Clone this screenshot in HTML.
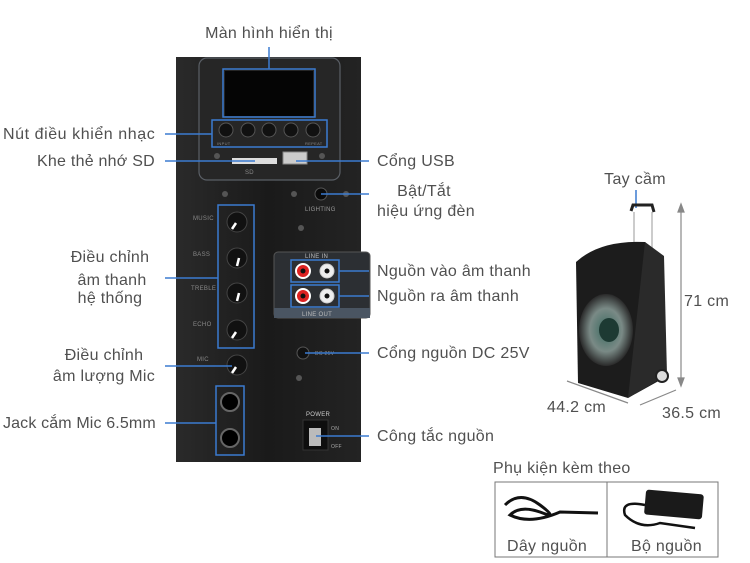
<!DOCTYPE html>
<html><head><meta charset="utf-8"><style>
html,body{margin:0;padding:0;background:#fff}
svg{display:block}
text{font-family:"Liberation Sans",sans-serif;fill:#505050;font-size:16px;letter-spacing:0.3px}
</style></head><body>
<svg width="750" height="563" viewBox="0 0 750 563" xmlns="http://www.w3.org/2000/svg">
<defs>
<linearGradient id="pg" x1="0" x2="1"><stop offset="0" stop-color="#2a2a2a"/><stop offset="0.5" stop-color="#1a1a1a"/><stop offset="1" stop-color="#232323"/></linearGradient>
<radialGradient id="wf" cx="0.5" cy="0.5" r="0.5"><stop offset="0" stop-color="#3b6a60"/><stop offset="0.6" stop-color="#7a8a86"/><stop offset="1" stop-color="#2a2a2a"/></radialGradient>
</defs>
<rect x="176" y="57" width="185" height="405" fill="url(#pg)"/>
<rect x="199" y="58" width="141" height="122" rx="8" fill="#262626" stroke="#5a5f66" stroke-width="1.2"/>
<rect x="225" y="71" width="88" height="45" fill="#050505"/>
<rect x="223" y="69" width="92" height="48" fill="none" stroke="#3b7bd0" stroke-width="1.5"/>
<rect x="212" y="120" width="115" height="27" fill="none" stroke="#3b7bd0" stroke-width="1.5"/>
<g fill="#111" stroke="#555" stroke-width="1">
<circle cx="226" cy="130" r="7"/><circle cx="248" cy="130" r="7"/><circle cx="269" cy="130" r="7"/><circle cx="291" cy="130" r="7"/><circle cx="313" cy="130" r="7"/>
</g>
<text x="217" y="145" style="font-size:4px;fill:#888">INPUT</text><text x="305" y="145" style="font-size:4px;fill:#888">REPEAT</text>
<rect x="232" y="158" width="45" height="6" fill="#ddd"/>
<rect x="283" y="152" width="24" height="12" fill="#ccc" stroke="#888"/>
<text x="245" y="174" style="font-size:6px;fill:#888">SD</text>
<g fill="#555"><circle cx="217" cy="156" r="3"/><circle cx="322" cy="156" r="3"/><circle cx="225" cy="194" r="3"/><circle cx="294" cy="194" r="3"/><circle cx="346" cy="194" r="3"/><circle cx="301" cy="228" r="3"/><circle cx="299" cy="378" r="3"/></g>
<circle cx="321" cy="194" r="6" fill="#0a0a0a" stroke="#555"/>
<text x="305" y="211" style="font-size:6px;fill:#999">LIGHTING</text>
<rect x="218" y="205" width="36" height="143" fill="none" stroke="#3b7bd0" stroke-width="1.5"/>
<g fill="#111" stroke="#444"><circle cx="237" cy="222" r="10"/><circle cx="237" cy="258" r="10"/><circle cx="237" cy="293" r="10"/><circle cx="237" cy="330" r="10"/><circle cx="237" cy="365" r="10"/></g>
<g stroke="#fff" stroke-width="2.5"><line x1="232" y1="229" x2="236" y2="223"/><line x1="237" y1="266" x2="239" y2="258"/><line x1="237" y1="301" x2="239" y2="293"/><line x1="232" y1="338" x2="236" y2="332"/><line x1="232" y1="373" x2="236" y2="367"/></g>
<text x="193" y="220" style="font-size:6px;fill:#888">MUSIC</text><text x="193" y="256" style="font-size:6px;fill:#888">BASS</text><text x="191" y="290" style="font-size:6px;fill:#888">TREBLE</text><text x="193" y="326" style="font-size:6px;fill:#888">ECHO</text><text x="197" y="361" style="font-size:6px;fill:#888">MIC</text>
<rect x="274" y="252" width="96" height="66" rx="4" fill="#2c2f33" stroke="#555"/>
<rect x="274" y="308" width="96" height="10" fill="#4a5562"/>
<text x="305" y="258" style="font-size:6px;fill:#bbb">LINE IN</text>
<text x="302" y="316" style="font-size:6px;fill:#bbb">LINE OUT</text>
<rect x="291" y="260" width="48" height="22" fill="none" stroke="#3b7bd0" stroke-width="1.5"/>
<rect x="291" y="285" width="48" height="22" fill="none" stroke="#3b7bd0" stroke-width="1.5"/>
<circle cx="303" cy="271" r="7" fill="#d22" stroke="#fff" stroke-width="2"/><circle cx="327" cy="271" r="7" fill="#eee" stroke="#ccc"/>
<circle cx="303" cy="296" r="7" fill="#d22" stroke="#fff" stroke-width="2"/><circle cx="327" cy="296" r="7" fill="#eee" stroke="#ccc"/>
<circle cx="303" cy="296" r="2.5" fill="#111"/><circle cx="327" cy="296" r="2.5" fill="#111"/><circle cx="303" cy="271" r="2.5" fill="#111"/><circle cx="327" cy="271" r="2.5" fill="#111"/>
<circle cx="303" cy="353" r="6" fill="#111" stroke="#555"/>
<text x="315" y="355" style="font-size:5px;fill:#888">DC 25V</text>
<rect x="216" y="386" width="28" height="69" fill="none" stroke="#3b7bd0" stroke-width="1.5"/>
<circle cx="230" cy="402" r="9" fill="#000" stroke="#666" stroke-width="2"/>
<circle cx="230" cy="438" r="9" fill="#000" stroke="#666" stroke-width="2"/>
<text x="306" y="416" style="font-size:6px;fill:#ccc">POWER</text>
<rect x="303" y="420" width="25" height="30" fill="#0e0e0e" stroke="#333"/>
<rect x="309" y="428" width="12" height="18" fill="#bbb"/>
<text x="331" y="430" style="font-size:5px;fill:#aaa">ON</text><text x="331" y="448" style="font-size:5px;fill:#aaa">OFF</text>
<g stroke="#3b7bd0" stroke-width="1.5" fill="none">
<line x1="269" y1="47" x2="269" y2="69"/>
<line x1="165" y1="134" x2="212" y2="134"/>
<line x1="165" y1="161" x2="255" y2="161"/>
<line x1="296" y1="161" x2="369" y2="161"/>
<line x1="321" y1="194" x2="369" y2="194"/>
<line x1="165" y1="278" x2="218" y2="278"/>
<line x1="339" y1="271" x2="369" y2="271"/>
<line x1="339" y1="296" x2="369" y2="296"/>
<line x1="165" y1="366" x2="232" y2="366"/>
<line x1="305" y1="353" x2="369" y2="353"/>
<line x1="165" y1="423" x2="216" y2="423"/>
<line x1="316" y1="436" x2="369" y2="436"/>
<line x1="636" y1="190" x2="636" y2="208"/>
</g>
<text x="269" y="38" text-anchor="middle">Màn hình hiển thị</text>
<text x="3" y="139" textLength="152">Nút điều khiển nhạc</text>
<text x="37" y="166" textLength="118">Khe thẻ nhớ SD</text>
<text x="377" y="166">Cổng USB</text>
<text x="424" y="196" text-anchor="middle">Bật/Tắt</text>
<text x="426" y="216" text-anchor="middle">hiệu ứng đèn</text>
<text x="110" y="262" text-anchor="middle">Điều chỉnh</text>
<text x="112" y="285" text-anchor="middle">âm thanh</text>
<text x="110" y="303" text-anchor="middle">hệ thống</text>
<text x="104" y="360" text-anchor="middle">Điều chỉnh</text>
<text x="104" y="381" text-anchor="middle">âm lượng Mic</text>
<text x="3" y="428" textLength="153">Jack cắm Mic 6.5mm</text>
<text x="377" y="276">Nguồn vào âm thanh</text>
<text x="377" y="301">Nguồn ra âm thanh</text>
<text x="377" y="358">Cổng nguồn DC 25V</text>
<text x="377" y="441">Công tắc nguồn</text>
<text x="635" y="184" text-anchor="middle">Tay cầm</text>
<text x="684" y="306">71 cm</text>
<text x="547" y="412">44.2 cm</text>
<text x="662" y="418">36.5 cm</text>
<text x="493" y="473">Phụ kiện kèm theo</text>
<g stroke="#ccc" stroke-width="2" fill="none"><line x1="634" y1="212" x2="634" y2="245"/><line x1="652" y1="212" x2="652" y2="250"/></g>
<path d="M631 211 L633 205 L652 205 L654 212" stroke="#222" stroke-width="3" fill="none"/>
<path d="M576 262 Q600 240 645 242 L662 258 L664 378 L628 398 L578 383 Z" fill="#1c1c1c"/>
<path d="M645 242 L664 256 L667 375 L628 398 Z" fill="#2a2a2a"/>
<ellipse cx="606" cy="330" rx="27" ry="36" fill="url(#wf)"/>
<ellipse cx="609" cy="330" rx="10" ry="12" fill="#1d3a33"/>
<circle cx="662" cy="376" r="6" fill="#ddd" stroke="#222" stroke-width="2"/>
<g stroke="#888" stroke-width="1.2" fill="#888">
<line x1="681" y1="207" x2="681" y2="383"/><path d="M678 212 L681 204 L684 212 Z"/><path d="M678 378 L681 386 L684 378 Z"/>
<line x1="567" y1="381" x2="628" y2="403"/><line x1="640" y1="405" x2="676" y2="390"/>
</g>
<rect x="495" y="482" width="223" height="75" fill="#fff" stroke="#777"/>
<line x1="607" y1="482" x2="607" y2="557" stroke="#777"/>
<path d="M505 505 Q520 490 540 505 Q560 520 540 512 Q520 505 510 515 Q530 525 560 512 L598 513" stroke="#111" stroke-width="3" fill="none"/>
<rect x="645" y="492" width="58" height="25" rx="3" fill="#1a1a1a" transform="rotate(5 674 504)"/>
<path d="M645 505 Q620 500 625 515 Q640 530 660 523 L695 528" stroke="#111" stroke-width="2.5" fill="none"/>
<text x="507" y="551">Dây nguồn</text>
<text x="631" y="551">Bộ nguồn</text>
</svg>
</body></html>
